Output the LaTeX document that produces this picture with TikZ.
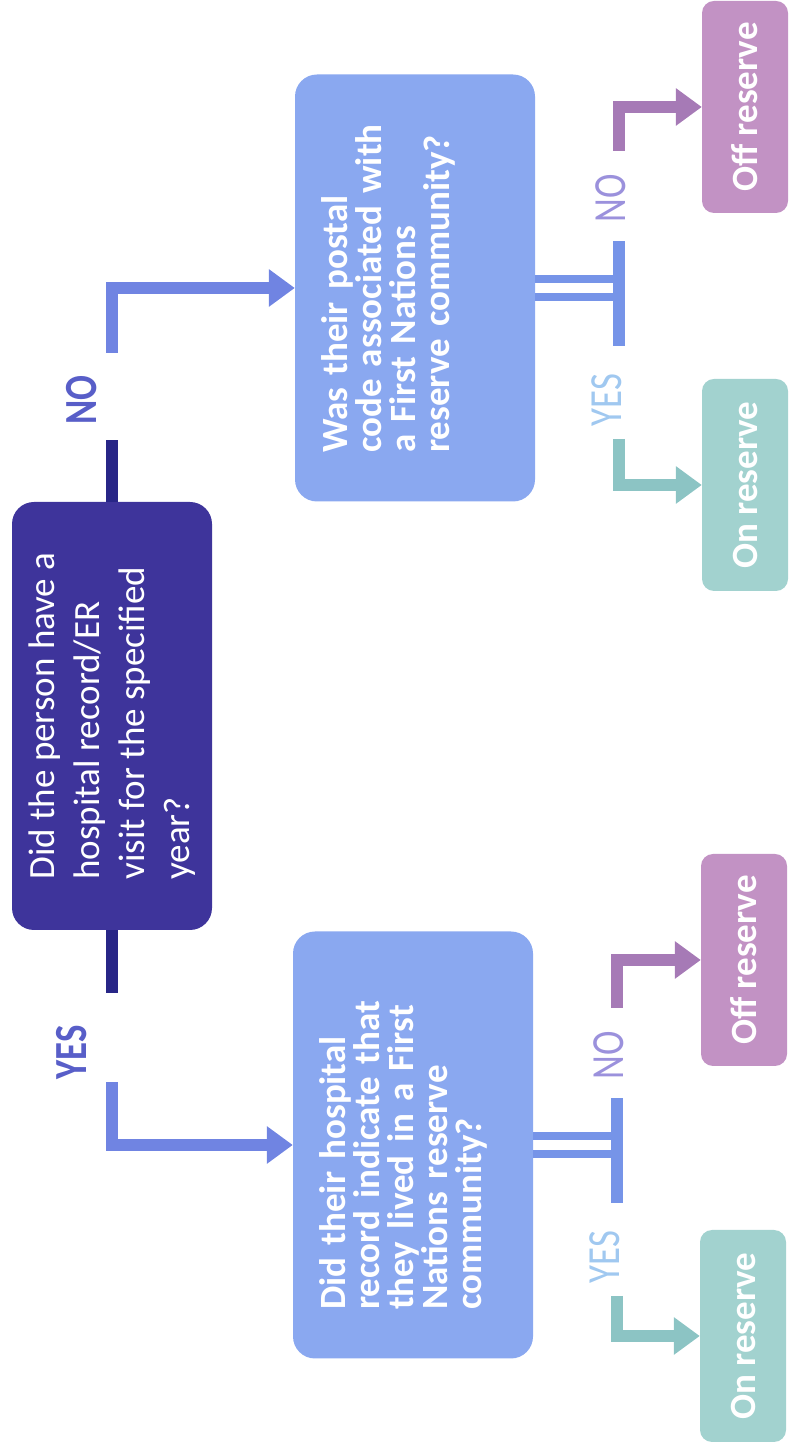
\documentclass[tikz,border=0pt]{standalone}
\usepackage{fontspec}
\setmainfont{Carlito}
\newfontfamily\tagfont[FakeStretch=0.8]{Carlito}
\usetikzlibrary{arrows.meta, positioning, calc}

\definecolor{rootfill}{RGB}{62,52,155}
\definecolor{stubline}{RGB}{40,38,135}
\definecolor{linkline}{RGB}{112,132,226}
\definecolor{tagdark}{RGB}{88,94,200}
\definecolor{askfill}{RGB}{138,168,240}
\definecolor{forkline}{RGB}{118,148,232}
\definecolor{notag}{RGB}{155,145,220}
\definecolor{yestag}{RGB}{160,200,240}
\definecolor{offline}{RGB}{166,122,182}
\definecolor{offfill}{RGB}{194,146,196}
\definecolor{online}{RGB}{140,196,196}
\definecolor{onfill}{RGB}{162,210,207}

\tikzset{
  box/.style={rounded corners=22pt, text=white, inner sep=0pt},
  rootbox/.style={box, fill=rootfill, minimum width=428pt, minimum height=200pt,
    align=left, font=\fontsize{37}{45}\selectfont},
  askbox/.style={box, fill=askfill, minimum width=427pt, minimum height=240pt,
    text width=330pt, align=left, text height=52pt, text depth=188pt,
    font=\bfseries\fontsize{37}{34}\selectfont},
  endbox/.style={box, rounded corners=12pt, minimum width=212pt, minimum height=86pt,
    font=\bfseries\fontsize{37}{40}\selectfont},
  roottag/.style={inner sep=0pt, text=tagdark, font=\tagfont\bfseries\fontsize{46}{50}\selectfont},
  endtag/.style={inner sep=0pt, font=\tagfont\fontsize{46}{50}\selectfont},
  tip/.style={-{Triangle[length=26pt,width=36pt]}},
  stub/.style={draw=stubline, line width=12pt},
  link/.style={tip, draw=linkline, line width=12pt},
  fork/.style={draw=forkline, line width=8pt},
  bar/.style={draw=forkline, line width=12pt},
  offarrow/.style={tip, draw=offline, line width=12pt},
  onarrow/.style={tip, draw=online, line width=12pt}
}

\begin{document}
\begin{tikzpicture}[x=1pt, y=1pt, rotate=90, transform shape]
  \useasboundingbox (0,0) rectangle (1452,-788);

  % questions
  \node[rootbox] (visit) at (736,-112) {Did the person have a\\hospital record/ER\\visit for the specified\\year?};
  \node[askbox] (postal) at (1164,-415) {Was their postal\\code associated with\\a First Nations\\reserve community?};
  \node[askbox] (hosp) at (307,-413) {Did their hospital\\record indicate that\\they lived in a First\\Nations reserve\\community?};

  % answers
  \node[endbox, fill=offfill] (postal-off) at (1345,-745) {Off reserve};
  \node[endbox, fill=onfill] (postal-on) at (967,-745) {On reserve};
  \node[endbox, fill=offfill] (hosp-off) at (492,-744) {Off reserve};
  \node[endbox, fill=onfill] (hosp-on) at (116,-743) {On reserve};

  % first question
  \coordinate (no-end) at ([xshift=62pt]visit.east);
  \coordinate (no-go) at ([xshift=149pt]visit.east);
  \draw[stub] (visit.east) -- (no-end);
  \node[roottag] (no-tag) at ([xshift=102pt,yshift=30pt]visit.east) {NO};
  \draw[link] (no-go) -| (postal.north);

  \coordinate (yes-end) at ([xshift=-63pt]visit.west);
  \coordinate (yes-go) at ([xshift=-152pt]visit.west);
  \draw[stub] (visit.west) -- (yes-end);
  \node[roottag] (yes-tag) at ([xshift=-122pt,yshift=40pt]visit.west) {YES};
  \draw[link] (yes-go) -| (hosp.north);

  % second questions
  \foreach \q in {postal,hosp} {
    \coordinate (\q-fork) at ([yshift=-84pt]\q.south);
    \draw[fork] ([xshift=9pt]\q.south) -- ([xshift=9pt]\q-fork);
    \draw[fork] ([xshift=-9pt]\q.south) -- ([xshift=-9pt]\q-fork);
    \draw[bar] ([xshift=-58pt]\q-fork) -- ([xshift=47pt]\q-fork);
    \node[endtag, text=notag] (\q-no) at ([xshift=90pt,yshift=8pt]\q-fork) {NO};
    \draw[offarrow] ([xshift=137pt]\q-fork) -| (\q-off.north);
    \node[endtag, text=yestag] (\q-yes) at ([xshift=-112pt,yshift=12pt]\q-fork) {YES};
    \draw[onarrow] ([xshift=-151pt]\q-fork) -| (\q-on.north);
  }
\end{tikzpicture}
\end{document}
